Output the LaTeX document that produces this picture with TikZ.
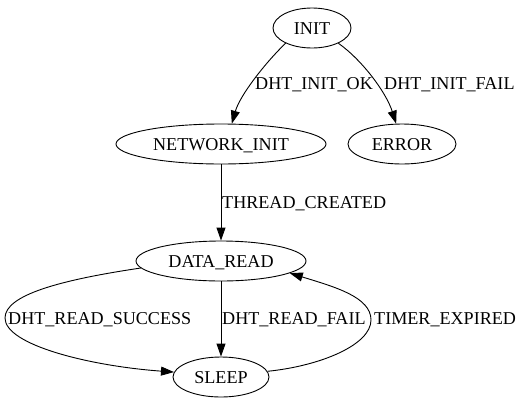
\documentclass[tikz,border=0pt]{standalone}
\usepackage{fontspec}
\setmainfont{Liberation Serif}
\usetikzlibrary{shapes.geometric,arrows.meta}
\newcommand{\dgfont}{\fontsize{18.1pt}{22pt}\selectfont}
\begin{document}
\begin{tikzpicture}[x=1pt,y=-1pt,
  st/.style={ellipse,draw,line width=0.9pt,inner sep=0pt,minimum height=40pt,
             font=\dgfont,text height=12.2pt,text depth=0pt},
  lbl/.style={anchor=base west,inner sep=0pt,font=\dgfont},
  edge/.style={draw,line width=0.9pt,-{Triangle[length=13pt,width=9pt]}}]
\useasboundingbox (0,0) rectangle (521,407);
\node[st,minimum width=78pt]  (init) at (312,28)  {INIT};
\node[st,minimum width=210pt] (net)  at (221,144) {NETWORK\_INIT};
\node[st,minimum width=108pt] (err)  at (402,144) {ERROR};
\node[st,minimum width=170pt] (dr)   at (221,261) {DATA\_READ};
\node[st,minimum width=96pt]  (sl)   at (221,377) {SLEEP};

\draw[edge] (init.210) .. controls (266,62) and (240,95) .. (net.62);
\draw[edge] (init.-30) .. controls (362,60) and (386,92) .. (err.106);
\draw[edge] (net) -- (dr);
\draw[edge] (dr) -- (sl);
\draw[edge] (dr.185) .. controls (60,280) and (5,295) .. (5,318)
            .. controls (5,345) and (90,366) .. (sl.174);
\draw[edge] (sl.7) .. controls (320,366) and (371,345) .. (371,320)
            .. controls (371,297) and (335,287) .. (dr.-10);

\node[lbl] (l1) at (255,89)  {DHT\_INIT\_OK};
\node[lbl] (l2) at (384,89)  {DHT\_INIT\_FAIL};
\node[lbl] (l3) at (222,208) {THREAD\_CREATED};
\node[lbl] (l4) at (8,324)   {DHT\_READ\_SUCCESS};
\node[lbl] (l5) at (222,324) {DHT\_READ\_FAIL};
\node[lbl] (l6) at (374,324) {TIMER\_EXPIRED};
\end{tikzpicture}
\end{document}
